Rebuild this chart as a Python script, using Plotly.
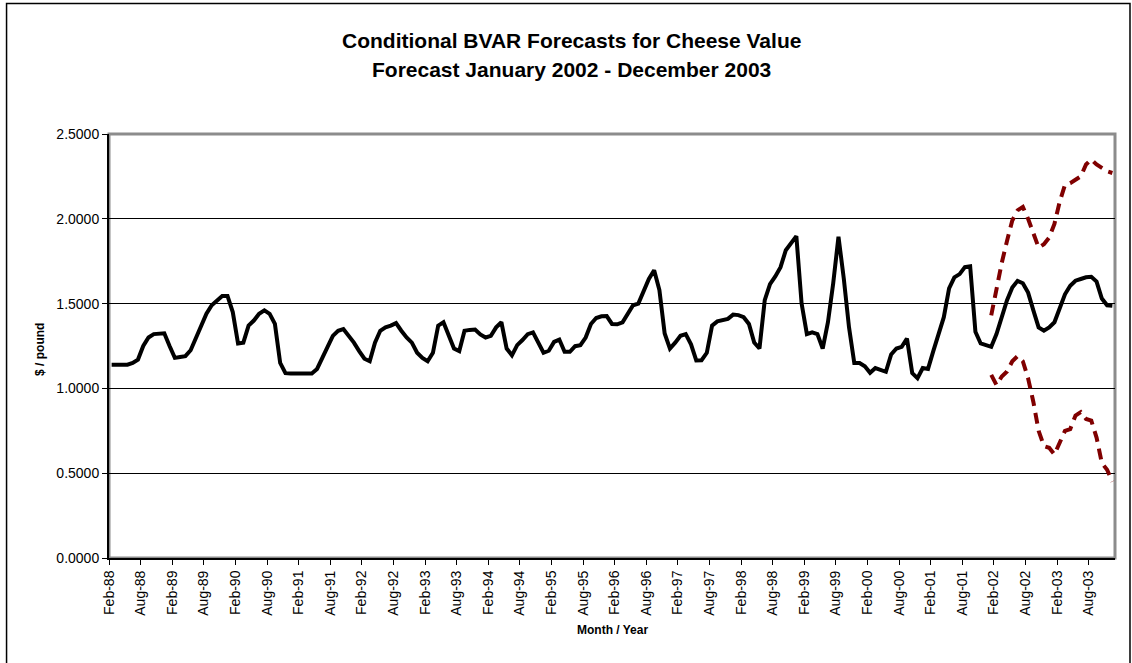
import numpy as np
import pandas as pd
import plotly.graph_objects as go

# Month categories: Feb-88 ... Dec-03
months = pd.date_range("1988-02-01", "2003-12-01", freq="MS")
month_labels = [d.strftime("%b-%y") for d in months]

# Actual / forecast mean cheese value ($/pound), one value per month
cheese_value = [
    1.14, 1.14, 1.14, 1.14, 1.15, 1.17, 1.25, 1.30, 1.32, 1.325,   # Feb-88..Nov-88
    1.325, 1.25, 1.18, 1.185, 1.19, 1.225, 1.30, 1.38, 1.44, 1.49,  # Dec-88..Sep-89
    1.52, 1.545, 1.545, 1.45, 1.265, 1.27, 1.37, 1.40, 1.44, 1.46,  # Oct-89..Jul-90
    1.44, 1.38, 1.15, 1.09, 1.088, 1.088, 1.088, 1.088, 1.088, 1.115,  # Aug-90..May-91
    1.175, 1.245, 1.31, 1.34, 1.35, 1.31, 1.27, 1.22, 1.175, 1.16,  # Jun-91..Mar-92
    1.27, 1.34, 1.36, 1.37, 1.385, 1.34, 1.30, 1.27, 1.21, 1.18,    # Apr-92..Jan-93
    1.16, 1.21, 1.37, 1.39, 1.31, 1.235, 1.22, 1.34, 1.345, 1.347,  # Feb-93..Nov-93
    1.318, 1.30, 1.31, 1.36, 1.39, 1.235, 1.195, 1.255, 1.285, 1.32,  # Dec-93..Sep-94
    1.33, 1.27, 1.21, 1.222, 1.274, 1.288, 1.216, 1.216, 1.249, 1.255,  # Oct-94..Jul-95
    1.30, 1.38, 1.415, 1.425, 1.426, 1.38, 1.378, 1.39, 1.44, 1.49,  # Aug-95..May-96
    1.50, 1.575, 1.645, 1.697, 1.58, 1.324, 1.235, 1.27, 1.31, 1.32,  # Jun-96..Mar-97
    1.26, 1.165, 1.166, 1.21, 1.37, 1.395, 1.40, 1.41, 1.435, 1.432,  # Apr-97..Jan-98
    1.42, 1.38, 1.27, 1.235, 1.52, 1.615, 1.66, 1.715, 1.815, 1.86,  # Feb-98..Nov-98
    1.898, 1.50, 1.32, 1.33, 1.32, 1.235, 1.39, 1.62, 1.894, 1.65,  # Dec-98..Sep-99
    1.36, 1.15, 1.15, 1.13, 1.092, 1.12, 1.107, 1.098, 1.20, 1.235,  # Oct-99..Jul-00
    1.245, 1.294, 1.09, 1.06, 1.12, 1.115, 1.22, 1.32, 1.42, 1.59,  # Aug-00..May-01
    1.655, 1.674, 1.715, 1.72, 1.334, 1.265, 1.255, 1.245, 1.32, 1.43,  # Jun-01..Mar-02
    1.52, 1.595, 1.634, 1.62, 1.565, 1.46, 1.36, 1.34, 1.36, 1.39,  # Apr-02..Jan-03
    1.48, 1.555, 1.605, 1.635, 1.645, 1.655, 1.658, 1.63, 1.53, 1.49,  # Feb-03..Nov-03
    1.487,                                                          # Dec-03
]

# Forecast bands, Jan-02 .. Dec-03
forecast_months = month_labels[month_labels.index("Jan-02"):]
upper_band = [1.43, 1.60, 1.74, 1.87, 1.99, 2.05, 2.07, 2.00, 1.92, 1.83, 1.85, 1.89,
              1.97, 2.10, 2.20, 2.21, 2.23, 2.25, 2.32, 2.35, 2.32, 2.30, 2.28, 2.27]
lower_band = [1.08, 1.02, 1.07, 1.10, 1.16, 1.19, 1.16, 1.06, 0.92, 0.75, 0.66, 0.65,
              0.61, 0.68, 0.75, 0.76, 0.84, 0.86, 0.82, 0.81, 0.71, 0.56, 0.52, 0.45]

y_ticks = [0.0, 0.5, 1.0, 1.5, 2.0, 2.5]

title_line1 = "Conditional BVAR Forecasts for Cheese Value"
title_line2 = "Forecast January 2002 - December 2003"
y_title = "$ / pound"
x_title = "Month / Year"

idx = {m: i for i, m in enumerate(month_labels)}
x_all = [idx[m] for m in month_labels]
x_fc = [idx[m] for m in forecast_months]

FONT = "Arial, Liberation Sans, sans-serif"

fig = go.Figure()
fig.add_trace(go.Scatter(x=x_fc, y=upper_band, mode="lines",
                         line=dict(color="#800000", width=4, dash="11px,7px"),
                         hoverinfo="skip", showlegend=False))
fig.add_trace(go.Scatter(x=x_fc, y=lower_band, mode="lines",
                         line=dict(color="#800000", width=4, dash="11px,7px"),
                         hoverinfo="skip", showlegend=False))
fig.add_trace(go.Scatter(x=x_all, y=cheese_value, mode="lines",
                         line=dict(color="black", width=4),
                         showlegend=False))

tick_idx = list(range(0, len(month_labels), 6))

L, R, T, B = 108.5, 1115.0, 133.5, 557.7
W, H = 1132, 663
pw, ph = R - L, B - T


def px_x(px):
    return (px - L) / pw


def px_y(py):
    return (B - py) / ph


fig.update_layout(
    width=W, height=H,
    margin=dict(l=L, r=W - R, t=T, b=H - B, pad=0),
    paper_bgcolor="white", plot_bgcolor="white",
    font=dict(family=FONT, color="black", size=14),
    xaxis=dict(
        range=[-0.5, len(month_labels) - 0.5],
        tickmode="array",
        tickvals=[i - 0.5 for i in tick_idx],
        ticktext=[month_labels[i] for i in tick_idx],
        tickangle=-90,
        ticks="outside", ticklen=5, tickcolor="black", tickwidth=1,
        showline=True, linecolor="black", linewidth=2,
        showgrid=False, zeroline=False,
        tickfont=dict(size=14),
    ),
    yaxis=dict(
        range=[0, 2.5],
        tickmode="array",
        tickvals=y_ticks,
        ticktext=[f"{v:.4f}" for v in y_ticks],
        ticks="outside", ticklen=5, tickcolor="black", tickwidth=1,
        showline=True, linecolor="black", linewidth=2,
        showgrid=True, gridcolor="black", gridwidth=1,
        zeroline=False,
        tickfont=dict(size=14),
    ),
    shapes=[
        dict(type="rect", xref="paper", yref="paper", x0=0, x1=1, y0=0, y1=1,
             line=dict(color="#8c8c8c", width=3), layer="below"),
        dict(type="rect", xref="paper", yref="paper",
             x0=px_x(6), x1=px_x(1130), y0=px_y(668), y1=px_y(3),
             line=dict(color="black", width=1.5), layer="below"),
    ],
    annotations=[
        dict(text=f"<b>{title_line1}</b>", xref="paper", yref="paper",
             x=px_x(571), y=px_y(40), showarrow=False, xanchor="center", yanchor="middle",
             font=dict(size=21, family=FONT)),
        dict(text=f"<b>{title_line2}</b>", xref="paper", yref="paper",
             x=px_x(571), y=px_y(69), showarrow=False, xanchor="center", yanchor="middle",
             font=dict(size=21, family=FONT)),
        dict(text=f"<b>{y_title}</b>", xref="paper", yref="paper",
             x=px_x(40), y=px_y(349), showarrow=False, xanchor="center", yanchor="middle",
             textangle=-90, font=dict(size=12, family=FONT)),
        dict(text=f"<b>{x_title}</b>", xref="paper", yref="paper",
             x=px_x(612), y=px_y(630), showarrow=False, xanchor="center", yanchor="middle",
             font=dict(size=12, family=FONT)),
    ],
)

fig.write_html(
    "out.html",
    config={"displayModeBar": False},
    post_script="document.body.style.margin='0';document.body.style.overflow='hidden';",
)
